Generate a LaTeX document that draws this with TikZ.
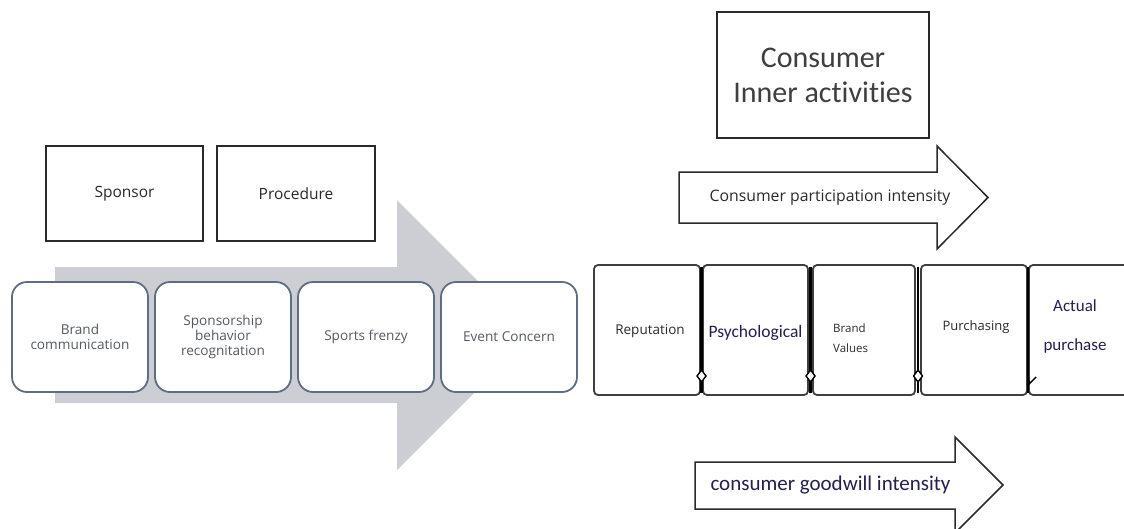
\documentclass[tikz,border=0pt]{standalone}
\usepackage{fontspec}
\setmainfont{Open Sans}
\newfontfamily\carl[Ligatures=NoCommon]{Carlito}
\definecolor{arrowgray}{HTML}{CDCED3}
\definecolor{rborder}{HTML}{5E6D82}
\definecolor{ltext}{HTML}{555A62}
\definecolor{navy}{HTML}{23204F}
\definecolor{dk}{HTML}{2A2A2A}
\tikzset{
  sqbox/.style={draw=dk, line width=1.6pt, fill=white, rectangle, inner sep=0pt},
  rbox/.style={draw=rborder, line width=1.8pt, fill=white, rounded corners=15pt, inner sep=0pt, minimum width=136pt, minimum height=110pt},
  pbox/.style={draw=dk!90, line width=1.8pt, fill=white, rounded corners=4pt, inner sep=0pt, minimum height=130pt},
  ltxt/.style={text=ltext, font=\fontsize{13.6}{15}\selectfont, align=center, inner sep=0pt},
  btxt/.style={text=dk, font=\fontsize{15.5}{18}\selectfont, inner sep=0pt},
  bigarrow/.style={draw=dk, line width=1.5pt, fill=white, line join=miter}
}
\begin{document}
\begin{tikzpicture}[x=1pt,y=-1pt]
\useasboundingbox (0,0) rectangle (1124,528);
\clip (0,0) rectangle (1124,528);
% gray process arrow
\fill[arrowgray] (55,267) -- (397,267) -- (397,200) -- (532,335) -- (397,470) -- (397,403) -- (55,403) -- cycle;
% top boxes
\node[sqbox, minimum width=157pt, minimum height=95pt] (sponsor) at (124.5,193.5) {};
\node[btxt] at (sponsor) {Sponsor};
\node[sqbox, minimum width=158pt, minimum height=95pt] (proc) at (296,193.5) {};
\node[btxt] at (proc) {Procedure};
% rounded boxes
\node[rbox] (b1) at (80,337) {};
\node[ltxt] at (b1) {Brand\\communication};
\node[rbox] (b2) at (223,337) {};
\node[ltxt] at (b2) {Sponsorship\\behavior\\recognitation};
\node[rbox] (b3) at (366,337) {};
\node[ltxt] at (b3) {Sports frenzy};
\node[rbox] (b4) at (509,337) {};
\node[ltxt] at (b4) {Event Concern};
% consumer inner activities
\node[sqbox, minimum width=212pt, minimum height=126pt] (inner) at (823,75) {};
\node[text=dk!90, font=\carl\fontsize{30}{35}\selectfont, align=center, inner sep=0pt] at (823,75) {Consumer\\Inner activities};
% participation arrow
\draw[bigarrow] (679,172) -- (937,172) -- (937,146) -- (988,197.5) -- (937,249) -- (937,223) -- (679,223) -- cycle;
\node[text=dk, font=\fontsize{15.8}{18}\selectfont, inner sep=0pt] (part) at (830,198) {Consumer participation intensity};
% goodwill arrow
\draw[bigarrow] (695,462) -- (955,462) -- (955,437) -- (1003,485) -- (955,533) -- (955,509) -- (695,509) -- cycle;
\node[text=navy, font=\carl\fontsize{21}{24}\selectfont, inner sep=0pt] (good) at (830.5,485) {consumer goodwill intensity};
% right boxes
\node[pbox, minimum width=106pt] (rep) at (647,330) {};
\node[pbox, minimum width=105pt] (psy) at (755.5,330) {};
\node[pbox, minimum width=102pt] (bv) at (864,330) {};
\node[pbox, minimum width=106pt] (pur) at (974,330) {};
\node[pbox, minimum width=110pt] (act) at (1084,330) {};
\node[text=dk, font=\fontsize{13.5}{16}\selectfont, inner sep=0pt] at (650,331) {Reputation};
\node[text=navy, font=\carl\fontsize{17.5}{20}\selectfont, inner sep=0pt] at (755.5,333) {Psychological};
\node[text=dk, font=\fontsize{11.5}{20}\selectfont, align=left, anchor=west, inner sep=0pt] at (833,338) {Brand\\Values};
\node[text=dk, font=\fontsize{13}{16}\selectfont, inner sep=0pt] at (976,327) {Purchasing};
\node[text=navy, font=\carl\fontsize{17}{39}\selectfont, align=center, inner sep=0pt] at (1075,326.5) {Actual\\purchase};
% divider connectors
\coordinate (d1t) at (701.5,267); \coordinate (d1b) at (701.5,393);
\coordinate (d2t) at (810.5,267); \coordinate (d2b) at (810.5,393);
\coordinate (d3t) at (918,267); \coordinate (d3b) at (918,393);
\coordinate (d4t) at (1028,267); \coordinate (d4b) at (1028,393);
\foreach \t/\b in {d1t/d1b,d2t/d2b,d3t/d3b,d4t/d4b} \draw[black, line width=2.2pt] (\t) -- (\b);
% small markers
\foreach \x in {701.5,810.5,918}
  \draw[black, line width=1.4pt, fill=white] (\x,370) -- (\x+4.5,376) -- (\x,382) -- (\x-4.5,376) -- cycle;
\draw[black, line width=1.4pt] (1028,371) -- (1029,384) -- (1036,377);
\end{tikzpicture}
\end{document}
